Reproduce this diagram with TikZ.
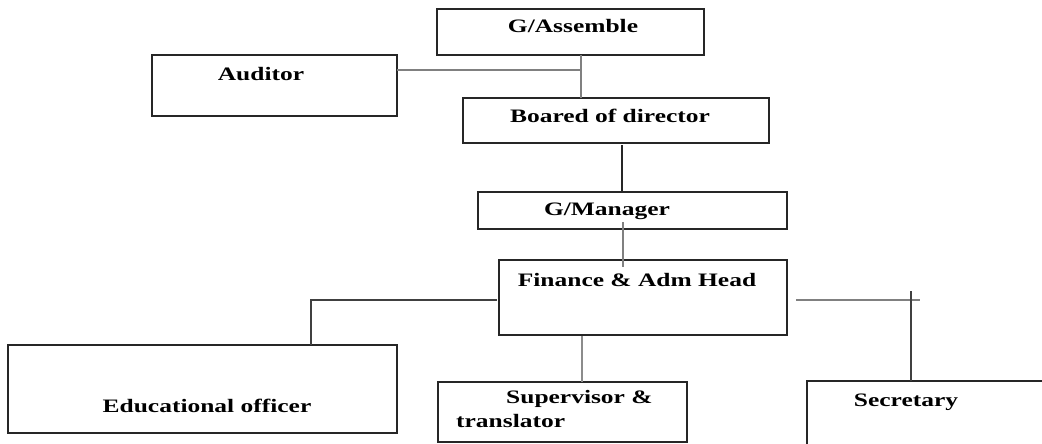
\documentclass[tikz,border=0pt]{standalone}
\usepackage{fontspec}
\setmainfont[FakeStretch=1.34]{Liberation Serif}
\begin{document}
\begin{tikzpicture}[x=1pt,y=-1pt,
  box/.style={draw=black!85,line width=1.4pt,inner sep=0pt,outer sep=0pt},
  txt/.style={font=\fontsize{19}{22}\selectfont\bfseries,anchor=base,inner sep=0pt},
  conn/.style={draw=black!50,line width=2.2pt},
  connd/.style={draw=black!75,line width=1.6pt}]
\useasboundingbox (0,0) rectangle (1042,444);
\clip (0,0) rectangle (1042,444);
\fill[white] (0,0) rectangle (1042,444);
% boxes
\node[box,minimum width=267pt,minimum height=46pt] (ga) at (570.5,32) {};
\node[box,minimum width=245pt,minimum height=61pt] (aud) at (274.5,85.5) {};
\node[box,minimum width=306pt,minimum height=45pt] (bod) at (616,120.5) {};
\node[box,minimum width=309pt,minimum height=37pt] (gm) at (632.5,210.5) {};
\node[box,minimum width=288pt,minimum height=75pt] (fin) at (643,297.5) {};
\node[box,minimum width=389pt,minimum height=88pt] (edu) at (202.5,389) {};
\node[box,minimum width=249pt,minimum height=60pt] (sup) at (562.5,412) {};
\node[box,minimum width=300pt,minimum height=100pt] (sec) at (957,431) {};
% texts
\node[txt] (tga) at (573,33) {G/Assemble};
\node[txt] (taud) at (261,81) {Auditor};
\node[txt] (tbod) at (610,122) {Boared of director};
\node[txt] (tgm) at (607,215) {G/Manager};
\node[txt] (tfin) at (637,286) {Finance \& Adm Head};
\node[txt] (tedu) at (207,412) {Educational officer};
\node[txt,anchor=base west] (tsup1) at (506,403) {Supervisor \&};
\node[txt,anchor=base west] (tsup2) at (456,427) {translator};
\node[txt] (tsec) at (906,406) {Secretary};
% junction coordinates
\coordinate (j1) at (581,70);
\coordinate (j2) at (622,145);
\coordinate (m1) at (623,222);
\coordinate (m2) at (623,267);
\coordinate (j3) at (582,336);
\coordinate (l1) at (497,300);
\coordinate (l2) at (311,300);
\coordinate (r1) at (796,300);
\coordinate (r2) at (920,300);
\coordinate (r3) at (911,291);
% connectors
\draw[conn] (j1 |- ga.south) -- (j1 |- bod.north);
\draw[conn] (aud.east |- j1) -- (j1);
\draw[draw=black!85,line width=1.5pt] (j2) -- (j2 |- gm.north);
\draw[conn] (m1) -- (m2);
\draw[conn,draw=black!45,line width=2.6pt] (j3) -- (j3 |- sup.north);
\draw[connd] (l1) -- (l2) -- (l2 |- edu.north);
\draw[conn] (r1) -- (r2);
\draw[connd] (r3) -- (r3 |- sec.north);
\end{tikzpicture}
\end{document}
